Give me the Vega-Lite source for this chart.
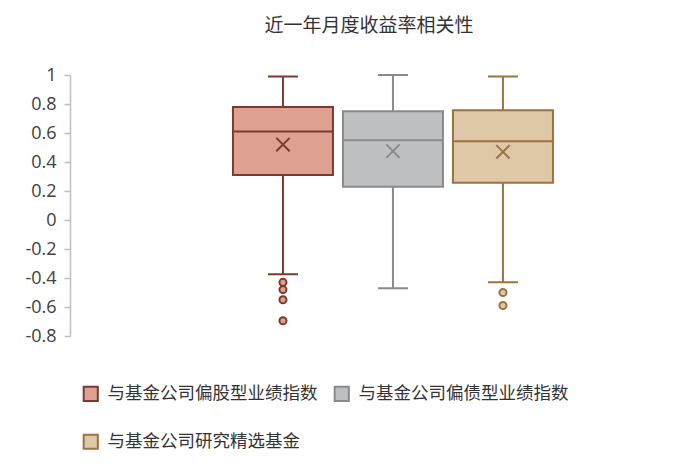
{
  "$schema": "https://vega.github.io/schema/vega-lite/v6.json",
  "width": 550,
  "height": 261,
  "autosize": "none",
  "padding": {"left": 70, "top": 75, "right": 80, "bottom": 131},
  "background": "white",
  "title": {"text": "近一年月度收益率相关性", "font": "Noto Sans CJK SC", "fontSize": 19, "fontWeight": "normal", "color": "#333333", "offset": 30, "anchor": "middle", "dx": 24},
  "config": {"view": {"stroke": null},
    "axisY": {"title": null, "grid": false, "labelOverlap": false, "domainColor": "#BFBFBF", "domainWidth": 1.5, "tickColor": "#BFBFBF", "tickSize": 6, "tickWidth": 1.5,
      "labelFont": "Open Sans", "labelFontSize": 18, "labelColor": "#404040", "labelPadding": 8},
    "legend": {"orient": "none", "direction": "horizontal", "legendX": 12, "legendY": 310, "columns": 2, "columnPadding": 12, "rowPadding": 25,
      "symbolType": "square", "symbolSize": 200, "symbolStrokeWidth": 2, "labelFont": "Noto Sans CJK SC", "labelFontSize": 17.5, "labelColor": "#333333", "labelOffset": 8, "labelLimit": 400}
  },
  "datasets": {
    "stats": [
      {"series": "与基金公司偏股型业绩指数", "lower": -0.374, "q1": 0.31, "median": 0.61, "q3": 0.78, "upper": 0.99, "mean": 0.52},
      {"series": "与基金公司偏债型业绩指数", "lower": -0.47, "q1": 0.23, "median": 0.55, "q3": 0.75, "upper": 1.0, "mean": 0.475},
      {"series": "与基金公司研究精选基金", "lower": -0.43, "q1": 0.257, "median": 0.543, "q3": 0.757, "upper": 0.99, "mean": 0.47}
    ],
    "outliers": [
      {"series": "与基金公司偏股型业绩指数", "value": -0.43},
      {"series": "与基金公司偏股型业绩指数", "value": -0.48},
      {"series": "与基金公司偏股型业绩指数", "value": -0.55},
      {"series": "与基金公司偏股型业绩指数", "value": -0.695},
      {"series": "与基金公司研究精选基金", "value": -0.5},
      {"series": "与基金公司研究精选基金", "value": -0.59}
    ]
  },
  "encoding": {
    "x": {"field": "series", "type": "nominal", "axis": null,
      "scale": {"domain": ["与基金公司偏股型业绩指数", "与基金公司偏债型业绩指数", "与基金公司研究精选基金"], "paddingInner": 0, "paddingOuter": 1, "align": 0.718}}
  },
  "layer": [
    {
      "data": {"name": "stats"},
      "mark": {"type": "rule", "strokeWidth": 2},
      "encoding": {
        "y": {"field": "lower", "type": "quantitative", "scale": {"domain": [-0.8, 1], "nice": false, "zero": false},
          "axis": {"values": [-0.8, -0.6, -0.4, -0.2, 0, 0.2, 0.4, 0.6, 0.8, 1], "labelExpr": "datum.value + ''"}},
        "y2": {"field": "upper"},
        "stroke": {"field": "series", "type": "nominal", "title": null,
          "scale": {"domain": ["与基金公司偏股型业绩指数", "与基金公司偏债型业绩指数", "与基金公司研究精选基金"], "range": ["#7A3B2E", "#8A8A8A", "#9B7340"]}}
      }
    },
    {
      "data": {"name": "stats"},
      "mark": {"type": "bar", "size": 100, "strokeWidth": 2},
      "encoding": {"y": {"field": "q1", "type": "quantitative",
          "axis": {"values": [-0.8, -0.6, -0.4, -0.2, 0, 0.2, 0.4, 0.6, 0.8, 1], "labelExpr": "datum.value + ''"}},
        "y2": {"field": "q3"},
        "fill": {"field": "series", "type": "nominal", "title": null,
          "scale": {"domain": ["与基金公司偏股型业绩指数", "与基金公司偏债型业绩指数", "与基金公司研究精选基金"], "range": ["#DDA091", "#BEBFC1", "#DFC8A8"]}},
        "stroke": {"field": "series", "type": "nominal", "title": null}}
    },
    {
      "data": {"name": "stats"},
      "mark": {"type": "bar", "size": 30, "strokeWidth": 2, "fillOpacity": 0},
      "encoding": {"y": {"field": "upper", "type": "quantitative", "axis": {"values": [-0.8, -0.6, -0.4, -0.2, 0, 0.2, 0.4, 0.6, 0.8, 1], "labelExpr": "datum.value + ''"}}, "y2": {"field": "upper"},
        "stroke": {"field": "series", "type": "nominal", "title": null}}
    },
    {
      "data": {"name": "stats"},
      "mark": {"type": "bar", "size": 30, "strokeWidth": 2, "fillOpacity": 0},
      "encoding": {"y": {"field": "lower", "type": "quantitative", "axis": {"values": [-0.8, -0.6, -0.4, -0.2, 0, 0.2, 0.4, 0.6, 0.8, 1], "labelExpr": "datum.value + ''"}}, "y2": {"field": "lower"},
        "stroke": {"field": "series", "type": "nominal", "title": null}}
    },
    {
      "data": {"name": "stats"},
      "mark": {"type": "bar", "size": 100, "strokeWidth": 2, "fillOpacity": 0},
      "encoding": {"y": {"field": "median", "type": "quantitative", "axis": {"values": [-0.8, -0.6, -0.4, -0.2, 0, 0.2, 0.4, 0.6, 0.8, 1], "labelExpr": "datum.value + ''"}}, "y2": {"field": "median"},
        "stroke": {"field": "series", "type": "nominal", "title": null}}
    },
    {
      "data": {"name": "stats"},
      "mark": {"type": "point", "shape": "M-1,-1L1,1M-1,1L1,-1", "size": 180, "strokeWidth": 2, "filled": false, "opacity": 1},
      "encoding": {"y": {"field": "mean", "type": "quantitative", "axis": {"values": [-0.8, -0.6, -0.4, -0.2, 0, 0.2, 0.4, 0.6, 0.8, 1], "labelExpr": "datum.value + ''"}},
        "stroke": {"field": "series", "type": "nominal", "title": null}}
    },
    {
      "data": {"name": "outliers"},
      "mark": {"type": "point", "shape": "circle", "size": 50, "strokeWidth": 2, "filled": false, "opacity": 1},
      "encoding": {"y": {"field": "value", "type": "quantitative", "axis": {"values": [-0.8, -0.6, -0.4, -0.2, 0, 0.2, 0.4, 0.6, 0.8, 1], "labelExpr": "datum.value + ''"}},
        "stroke": {"field": "series", "type": "nominal", "title": null},
        "fill": {"field": "series", "type": "nominal", "title": null}}
    }
  ]
}
